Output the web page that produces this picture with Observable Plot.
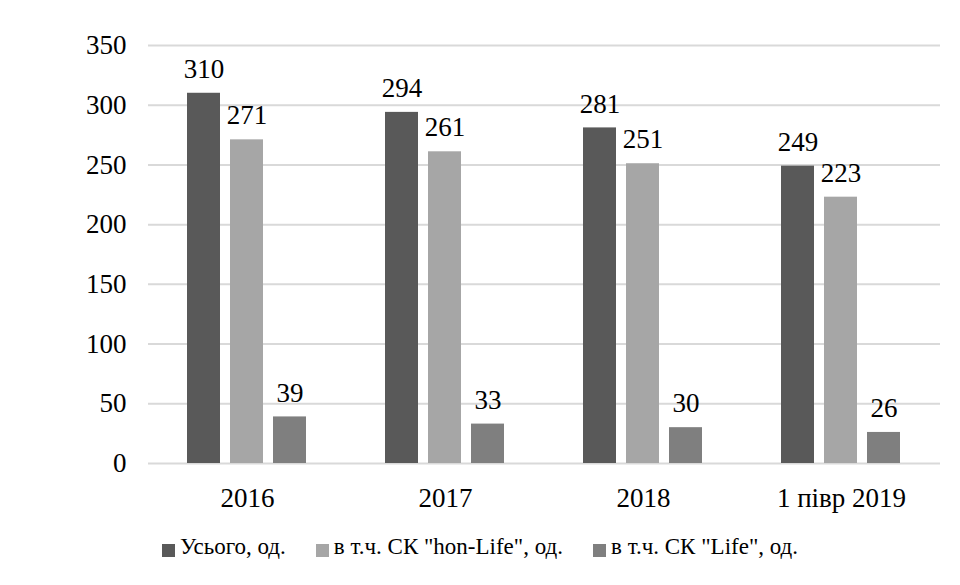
<!DOCTYPE html>
<html>
<head>
<meta charset="utf-8">
<script src="https://cdn.jsdelivr.net/npm/d3@7"></script>
<script src="https://cdn.jsdelivr.net/npm/@observablehq/plot@0.6"></script>
<style>
  html, body { margin: 0; padding: 0; background: #fff; }
  .ser { font-family: 'Liberation Serif'; }
  #plotbox { position: absolute; left: 0; top: 0; width: 960px; }
  #keyrow { position: absolute; left: 0; top: 517px; width: 960px; display: flex; justify-content: center; align-items: center; gap: 30px; font-size: 23px; height: 60px; color: #000; }
  .kitem { display: flex; align-items: center; gap: 5px; }
  .ksw { width: 13px; height: 13px; display: inline-block; position: relative; top: 3px; }
</style>
</head>
<body>
<div id="plotbox" class="ser"></div>
<div id="keyrow" class="ser"></div>
<script>
const years = ["2016", "2017", "2018", "1 півр 2019"];
const seriesNames = ["Усього, од.", "в т.ч. СК \"hon-Life\", од.", "в т.ч. СК \"Life\", од."];
const total = [310, 294, 281, 249];
const honLife = [271, 261, 251, 223];
const life = [39, 33, 30, 26];
const yTicks = [0, 50, 100, 150, 200, 250, 300, 350];
const colors = ["#595959", "#a6a6a6", "#7f7f7f"];

const seriesValues = [total, honLife, life];
const data = [];
years.forEach((yr, i) => {
  seriesNames.forEach((s, j) => {
    data.push({ year: yr, series: s, value: seriesValues[j][i] });
  });
});

const chart = Plot.plot({
  width: 960,
  height: 515,
  marginLeft: 147,
  marginRight: 20,
  marginTop: 45,
  marginBottom: 52,
  style: { fontFamily: "'Liberation Serif'", fontSize: "27px", color: "#000", background: "#fff", overflow: "visible" },
  fx: { domain: years, padding: 0, label: null, axis: "bottom", tickSize: 0, tickPadding: 24 },
  x: { domain: seriesNames, axis: null, paddingInner: 0.227, paddingOuter: 0.864 },
  y: { domain: [0, 350], ticks: yTicks, tickSize: 0, tickPadding: 22, label: null },
  color: { domain: seriesNames, range: colors },
  marks: [
    Plot.ruleY(yTicks, { stroke: "#d9d9d9", strokeWidth: 2 }),
    Plot.barY(data, { fx: "year", x: "series", y: "value", fill: "series" }),
    Plot.text(data, { fx: "year", x: "series", y: "value", text: d => String(d.value), dy: -24, fontSize: 27, fill: "#000" })
  ]
});
chart.querySelectorAll("text").forEach(t => { t.style.fontFamily = "'Liberation Serif'"; });
document.getElementById("plotbox").appendChild(chart);

const keyrow = document.getElementById("keyrow");
seriesNames.forEach((s, j) => {
  const item = document.createElement("div");
  item.className = "kitem";
  const sw = document.createElement("span");
  sw.className = "ksw";
  sw.style.background = colors[j];
  const t = document.createElement("span");
  t.textContent = s;
  t.style.fontFamily = "'Liberation Serif'";
  item.appendChild(sw);
  item.appendChild(t);
  keyrow.appendChild(item);
});
</script>
</body>
</html>
